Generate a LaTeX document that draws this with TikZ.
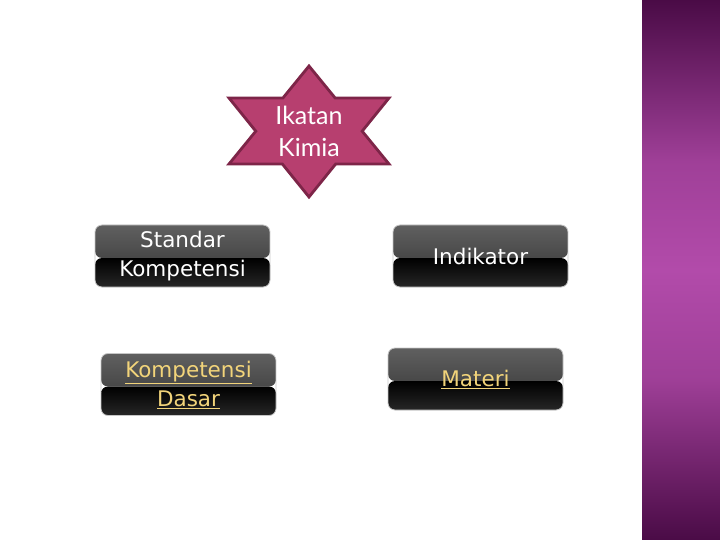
\documentclass[tikz,border=0pt]{standalone}
\usepackage{fontspec}
\setmainfont{DejaVu Sans}
\newfontfamily\starfont{Lato}
\usetikzlibrary{positioning}
\definecolor{starfill}{HTML}{B73F6F}
\definecolor{stardraw}{HTML}{7D2548}
\definecolor{linkgold}{HTML}{F2D47A}
\definecolor{stripdark}{HTML}{4A0B46}
\definecolor{striplight}{HTML}{B24BAA}
\pgfdeclareverticalshading{stripshade}{100bp}{color(0bp)=(stripdark); color(25bp)=(stripdark);
  color(40bp)=(striplight!82!stripdark); color(50bp)=(striplight); color(60bp)=(striplight!82!stripdark);
  color(75bp)=(stripdark); color(100bp)=(stripdark)}
\tikzset{
glossbox/.style={rounded corners=7pt, draw=gray!45, line width=0.8pt,
  minimum width=175pt, minimum height=62pt, inner sep=0pt,
  text=white, align=center, font=\fontsize{21.5}{29}\selectfont,
  path picture={
    \shade[top color=gray!75!black, bottom color=black!80]
      (path picture bounding box.north west) rectangle ([yshift=-2pt]path picture bounding box.east);
    \shade[top color=black, bottom color=black!85]
      ([yshift=-2pt]path picture bounding box.west) rectangle (path picture bounding box.south east);
  }},
linkbox/.style={glossbox, text=linkgold},
startext/.style={text=white, align=center, font=\starfont\fontsize{25}{32}\selectfont},
}

\begin{document}
\begin{tikzpicture}[x=1pt,y=-1pt]
    \useasboundingbox (0,0) rectangle (720,540);

    %side strip
    \shade[shading=stripshade] (642,0) rectangle (720,540);

    %star points
    \coordinate (st) at (309,66);
    \coordinate (sb) at (309,197);
    \coordinate (sul) at (229,98);
    \coordinate (sur) at (389,98);
    \coordinate (sll) at (229,164);
    \coordinate (slr) at (389,164);

    %star
    \filldraw[fill=starfill, draw=stardraw, line width=2.8pt, line join=miter]
      (st) -- (intersection of st--sll and sul--sur) -- (sul)
      -- (intersection of st--sll and sul--sb) -- (sll)
      -- (intersection of sll--slr and sul--sb) -- (sb)
      -- (intersection of sll--slr and sur--sb) -- (slr)
      -- (intersection of st--slr and sur--sb) -- (sur)
      -- (intersection of st--slr and sul--sur) -- cycle;
    \node[startext] (ikatan) at (309,131) {Ikatan\\Kimia};

    %boxes
    \node[glossbox] (sk) at (182.5,256) {Standar\\Kompetensi};
    \node[glossbox] (ind) at (480.5,256) {Indikator};
    \node[linkbox] (kd) at (188.5,384.5) {\underline{Kompetensi}\\\underline{Dasar}};
    \node[linkbox] (mat) at (475.5,379) {\underline{Materi}};

\end{tikzpicture}
\end{document}
